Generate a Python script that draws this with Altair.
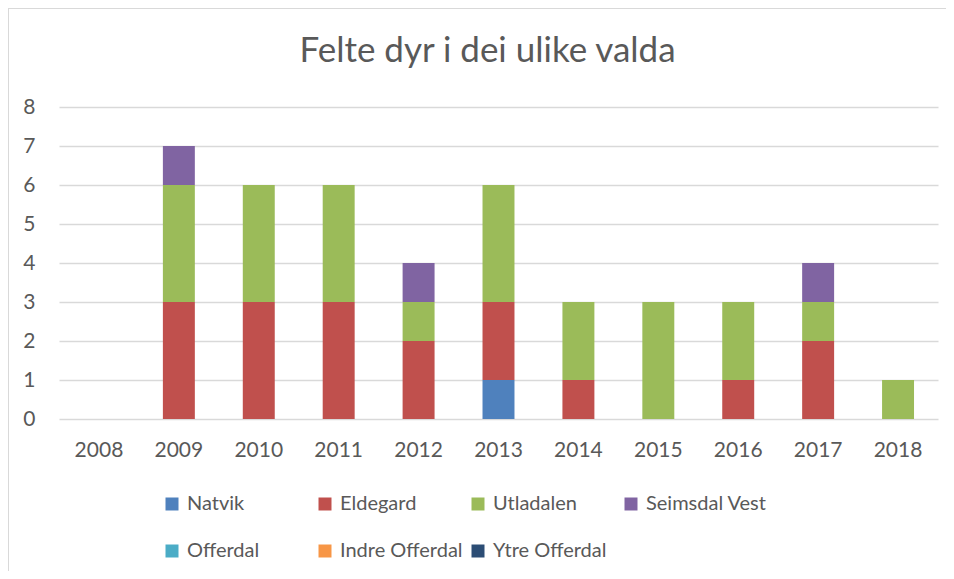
import altair as alt
import pandas as pd

years = ["2008", "2009", "2010", "2011", "2012", "2013", "2014", "2015", "2016", "2017", "2018"]
series = ["Natvik", "Eldegard", "Utladalen", "Seimsdal Vest", "Offerdal", "Indre Offerdal", "Ytre Offerdal"]
colors = ["#4F81BD", "#C0504D", "#9BBB59", "#8064A2", "#4BACC6", "#F79646", "#2C4D75"]

natvik        = [0, 0, 0, 0, 0, 1, 0, 0, 0, 0, 0]
eldegard      = [0, 3, 3, 3, 2, 2, 1, 0, 1, 2, 0]
utladalen     = [0, 3, 3, 3, 1, 3, 2, 3, 2, 1, 1]
seimsdal_vest = [0, 1, 0, 0, 1, 0, 0, 0, 0, 1, 0]
offerdal      = [0, 0, 0, 0, 0, 0, 0, 0, 0, 0, 0]
indre_offerdal = [0, 0, 0, 0, 0, 0, 0, 0, 0, 0, 0]
ytre_offerdal = [0, 0, 0, 0, 0, 0, 0, 0, 0, 0, 0]

values = [natvik, eldegard, utladalen, seimsdal_vest, offerdal, indre_offerdal, ytre_offerdal]

rows = []
for i, (name, vals) in enumerate(zip(series, values)):
    for y, v in zip(years, vals):
        rows.append({"Year": y, "Serie": name, "Antal": v, "idx": i})
df = pd.DataFrame(rows)

FONT = "Lato"
GREY = "#595959"

bars = alt.Chart(df).mark_bar().encode(
    x=alt.X("Year:N", sort=years, title=None,
            scale=alt.Scale(paddingInner=0.6, paddingOuter=0.3),
            axis=alt.Axis(labelAngle=0, domain=False, ticks=False, labelPadding=20,
                          labelFontSize=21, labelColor=GREY, labelFont=FONT, grid=False)),
    y=alt.Y("Antal:Q", title=None, stack="zero",
            scale=alt.Scale(domain=[0, 8], nice=False),
            axis=alt.Axis(values=list(range(0, 9)), domain=False, ticks=False, labelPadding=24,
                          labelFontSize=21, labelColor=GREY, labelFont=FONT,
                          grid=True, gridColor="#D9D9D9", gridWidth=1.3)),
    color=alt.Color("Serie:N", sort=series, title=None,
                    scale=alt.Scale(domain=series, range=colors),
                    legend=alt.Legend(orient="none", legendX=103, legendY=387, direction="horizontal",
                                      columns=4, gridAlign="all", columnPadding=5, rowPadding=27,
                                      symbolType="square", symbolSize=169, symbolStrokeWidth=0,
                                      labelFontSize=20, labelColor=GREY, labelFont=FONT,
                                      labelOffset=5, padding=0)),
    order=alt.Order("idx:Q", sort="ascending"),
)

top_border = alt.Chart(df).mark_rule(color="#D9D9D9", strokeWidth=1.5).encode(
    x=alt.value(-51), x2=alt.value(887), y=alt.value(-99)
)
left_border = alt.Chart(df).mark_rule(color="#D9D9D9", strokeWidth=1.5).encode(
    x=alt.value(-51), y=alt.value(-99), y2=alt.value(464)
)

chart = alt.layer(bars, top_border, left_border).properties(
    width=879, height=312,
    title=alt.TitleParams("Felte dyr i dei ulike valda", fontSize=35, color=GREY, font=FONT,
                          fontWeight="normal", anchor="middle", dx=-11, offset=-62),
    autosize=alt.AutoSizeParams(type="none"),
    padding={"left": 51, "top": 99, "right": 8, "bottom": 152},
).configure_view(stroke=None)

chart.save("out.html", embed_options={"renderer": "svg", "actions": False})
